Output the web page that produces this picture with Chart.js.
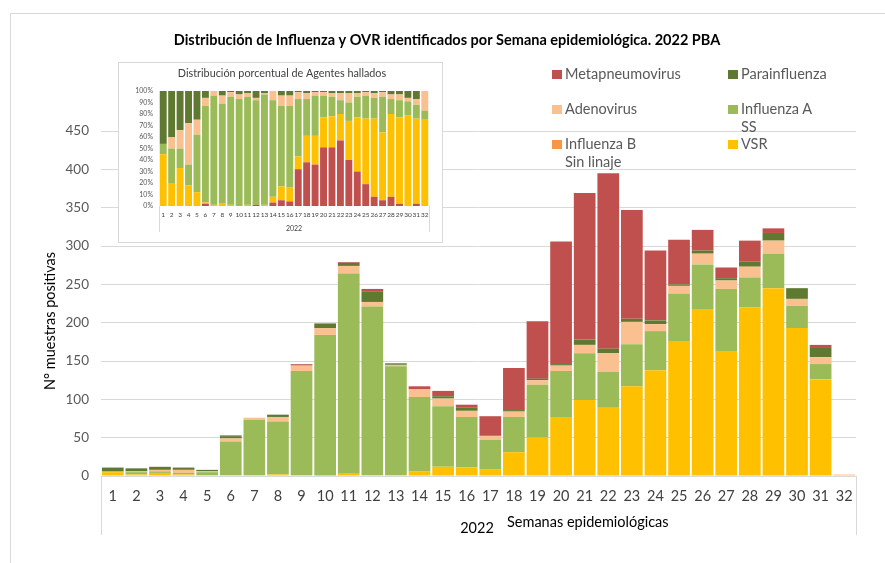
<!DOCTYPE html>
<html>
<head>
<meta charset="utf-8">
<script src="https://cdn.jsdelivr.net/npm/chart.js@4.4.1/dist/chart.umd.min.js"></script>
<style>
  html, body { margin:0; padding:0; background:#fff; }
  body { width:885px; height:563px; position:relative; overflow:hidden; font-family: Lato, "Liberation Sans", sans-serif; }
  #frame { position:absolute; left:10px; top:13px; width:900px; height:600px; border-left:1px solid #D9D9D9; border-top:1px solid #D9D9D9; }
  #main { position:absolute; left:0; top:0; }
  #insetBox { position:absolute; left:118px; top:62px; width:323px; height:179px; border:1px solid #D9D9D9; background:#fff; }
  #inset { position:absolute; left:0; top:0; }
  .lg { position:absolute; font-size:14.5px; line-height:18px; color:#595959; white-space:nowrap; }
  .sw { position:absolute; width:10px; height:9px; }
</style>
</head>
<body>
<div id="frame"></div>
<canvas id="main" width="885" height="563"></canvas>
<div id="insetBox"><canvas id="inset" width="323" height="179"></canvas></div>
<div id="legend"></div>
<script>
// ---------- data (main chart, counts) ----------
const weeks = ['1','2','3','4','5','6','7','8','9','10','11','12','13','14','15','16','17','18','19','20','21','22','23','24','25','26','27','28','29','30','31','32'];
const vsr      = [5,2,4,2,1,1,1,2,1,0,3,1,1,6,12,11,9,31,50,76,99,89,117,138,176,217,162,220,245,193,126,0];
const influA   = [1,3,2,2,4,44,72,69,136,184,261,220,142,97,79,66,38,46,69,61,61,47,55,51,62,59,82,39,45,29,20,0];
const influB   = [0,0,0,0,0,0,0,0,0,0,0,0,0,0,0,0,0,0,0,0,0,0,0,0,0,0,0,0,0,0,0,0];
const adeno    = [0,1,2,4,1,4,3,6,7,9,10,6,2,10,10,8,5,7,6,7,11,24,29,9,10,14,11,14,17,9,9,2];
const parainf  = [5,4,4,3,2,3,0,3,1,6,4,14,2,0,3,4,1,2,2,2,7,6,4,5,2,4,3,7,10,14,12,0];
const metap    = [0,0,0,0,0,1,0,0,1,0,1,3,0,4,7,4,25,55,75,160,191,229,142,91,58,27,14,27,6,0,4,0];
const yTicks   = [0,50,100,150,200,250,300,350,400,450];

// ---------- data (inset chart, percent) ----------
const pMetap   = [0,0,0,0,0,2,0,0,0,0,0,1,0,3,5,4,32,38,36,51,51,57,40,30,19,8,5,8,2,0,2,0];
const pVsr     = [45,20,33,18,12,1,1,2,1,0,1,0,1,5,12,12,11,23,25,26,27,23,34,47,57,68,59,72,75,79,74,75];
const pInfluA  = [9,30,17,18,50,84,95,87,94,93,94,91,96,84,70,71,50,32,35,19,17,12,16,18,20,18,31,13,15,12,12,8];
const pInfluB  = [0,0,0,0,0,0,0,0,0,0,0,0,0,0,0,0,0,0,0,0,0,0,0,0,0,0,0,0,0,0,0,0];
const pAdeno   = [0,10,16,36,13,7,4,7,4,4,3,2,1,8,9,9,6,5,3,3,3,6,8,3,3,4,4,4,5,3,5,17];
const pParainf = [46,40,34,28,25,6,0,4,1,3,2,6,2,0,4,4,1,2,1,1,2,2,2,2,1,2,1,3,3,6,7,0];

const C = {
  meta:'#C0504D', para:'#5F7A30', adeno:'#FAC090', infA:'#9BBB59', infB:'#F79646', vsr:'#FFC000'
};
const FONT = 'Lato, "Liberation Sans", sans-serif';

// ---------- legend (HTML text) ----------
const legendItems = [
  {t:['Metapneumovirus'], c:C.meta,  x:552, y:74},
  {t:['Parainfluenza'],   c:C.para,  x:728, y:74},
  {t:['Adenovirus'],      c:C.adeno, x:552, y:109},
  {t:['Influenza A','SS'],c:C.infA,  x:728, y:109},
  {t:['Influenza B','Sin linaje'], c:C.infB, x:552, y:144},
  {t:['VSR'],             c:C.vsr,   x:728, y:144}
];
const lg = document.getElementById('legend');
legendItems.forEach(it => {
  const sw = document.createElement('div');
  sw.className = 'sw'; sw.style.background = it.c;
  sw.style.left = it.x + 'px'; sw.style.top = (it.y - 4) + 'px';
  lg.appendChild(sw);
  const tx = document.createElement('div');
  tx.className = 'lg';
  tx.style.left = (it.x + 13) + 'px'; tx.style.top = (it.y - 9) + 'px';
  tx.innerHTML = it.t.join('<br>');
  lg.appendChild(tx);
});

// ---------- main chart ----------
const mainDecor = {
  id:'mainDecor',
  afterDraw(chart){
    const ctx = chart.ctx, a = chart.chartArea;
    ctx.save();
    ctx.fillStyle = '#000';
    ctx.textAlign = 'center'; ctx.textBaseline = 'middle';
    ctx.font = 'bold 14.5px ' + FONT;
    ctx.fillText('Distribución de Influenza y OVR identificados por Semana epidemiológica. 2022 PBA', 447, 40);
    ctx.font = '14.5px ' + FONT;
    ctx.fillText('2022', 477, 528);
    ctx.textAlign = 'left';
    ctx.fillText('Semanas epidemiológicas', 507, 522);
    ctx.save();
    ctx.translate(50, 321); ctx.rotate(-Math.PI/2);
    ctx.textAlign = 'center';
    ctx.fillText('N° muestras positivas', 0, 0);
    ctx.restore();
    ctx.strokeStyle = '#D9D9D9'; ctx.lineWidth = 1;
    ctx.beginPath();
    ctx.moveTo(Math.round(a.left)+0.5, a.bottom); ctx.lineTo(Math.round(a.left)+0.5, a.bottom+59);
    ctx.moveTo(Math.round(a.right)+0.5, a.bottom); ctx.lineTo(Math.round(a.right)+0.5, a.bottom+59);
    ctx.stroke();
    ctx.restore();
  }
};

function ds(label, data, color){
  return {label, data, backgroundColor: color, borderWidth: 0, categoryPercentage: 0.92, barPercentage: 1};
}

new Chart(document.getElementById('main'), {
  type:'bar',
  data:{
    labels: weeks,
    datasets:[
      ds('VSR', vsr, C.vsr),
      ds('Influenza A SS', influA, C.infA),
      ds('Influenza B Sin linaje', influB, C.infB),
      ds('Adenovirus', adeno, C.adeno),
      ds('Parainfluenza', parainf, C.para),
      ds('Metapneumovirus', metap, C.meta)
    ]
  },
  options:{
    responsive:false, animation:false, devicePixelRatio:1,
    layout:{ padding:{ top:131, right:29, left:0, bottom:0 } },
    plugins:{ legend:{display:false}, title:{display:false}, tooltip:{enabled:false} },
    scales:{
      x:{
        stacked:true,
        grid:{ display:false, drawTicks:false },
        border:{ display:false },
        ticks:{ font:{ family:FONT, size:14.5 }, color:'#404040', padding:12, maxRotation:0, autoSkip:false },
        afterFit(s){ s.height = 87; }
      },
      y:{
        stacked:true, min:0, max:450,
        afterBuildTicks(s){ s.ticks = yTicks.map(v => ({value:v})); },
        grid:{ color:'#D9D9D9', lineWidth:1, drawTicks:false },
        border:{ display:false },
        ticks:{ font:{ family:FONT, size:13.5 }, color:'#595959', padding:12 },
        afterFit(s){ s.width = 101; }
      }
    }
  },
  plugins:[mainDecor]
});

// ---------- inset chart ----------
const insetDecor = {
  id:'insetDecor',
  afterDraw(chart){
    const ctx = chart.ctx, a = chart.chartArea;
    ctx.save();
    ctx.fillStyle = '#404040';
    ctx.textAlign = 'center'; ctx.textBaseline = 'middle';
    ctx.font = '10.8px ' + FONT;
    ctx.fillText('Distribución porcentual de Agentes hallados', 163, 11);
    ctx.font = '7px ' + FONT;
    ctx.fillText('2022', (a.left + a.right)/2, 166);
    ctx.strokeStyle = '#D9D9D9'; ctx.lineWidth = 1;
    ctx.beginPath();
    ctx.moveTo(Math.round(a.left)+0.5, a.bottom); ctx.lineTo(Math.round(a.left)+0.5, a.bottom+26);
    ctx.moveTo(Math.round(a.right)+0.5, a.bottom); ctx.lineTo(Math.round(a.right)+0.5, a.bottom+26);
    ctx.stroke();
    ctx.restore();
  }
};
function ids(label, data, color){
  return {label, data, backgroundColor: color, borderWidth: 0, categoryPercentage: 0.82, barPercentage: 1};
}
new Chart(document.getElementById('inset'), {
  type:'bar',
  data:{
    labels: weeks,
    datasets:[
      ids('Metapneumovirus', pMetap, C.meta),
      ids('VSR', pVsr, C.vsr),
      ids('Influenza A SS', pInfluA, C.infA),
      ids('Influenza B Sin linaje', pInfluB, C.infB),
      ids('Adenovirus', pAdeno, C.adeno),
      ids('Parainfluenza', pParainf, C.para)
    ]
  },
  options:{
    responsive:false, animation:false, devicePixelRatio:1,
    layout:{ padding:{ top:28, right:13, left:0, bottom:0 } },
    plugins:{ legend:{display:false}, title:{display:false}, tooltip:{enabled:false} },
    scales:{
      x:{
        stacked:true,
        grid:{ display:false, drawTicks:false },
        border:{ display:false },
        ticks:{ font:{ family:FONT, size:6.5 }, color:'#404040', padding:5, maxRotation:0, autoSkip:false },
        afterFit(s){ s.height = 36; }
      },
      y:{
        stacked:true, min:0, max:100,
        ticks:{ stepSize:10, font:{ family:FONT, size:7 }, color:'#595959', padding:6, callback:v => v + '%' },
        grid:{ display:false, drawTicks:false },
        border:{ display:false },
        afterFit(s){ s.width = 40; }
      }
    }
  },
  plugins:[insetDecor]
});
</script>
</body>
</html>
